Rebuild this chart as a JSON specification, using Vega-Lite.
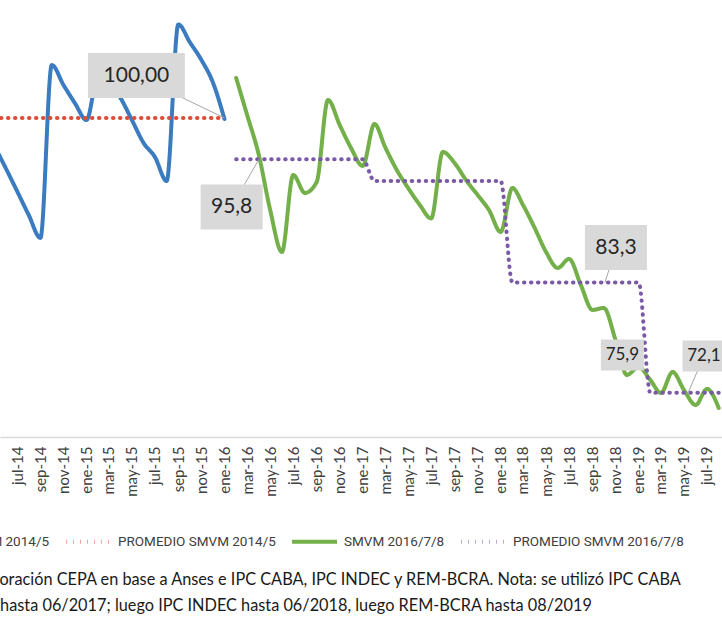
{
  "$schema": "https://vega.github.io/schema/vega-lite/v6.json",
  "width": 722,
  "height": 437,
  "autosize": {"type": "none"},
  "padding": {"left": 0, "top": 0, "right": 0, "bottom": 187},
  "background": "white",
  "config": {"view": {"stroke": null}, "font": "Lato"},
  "datasets": {
    "series": [
      {"date": "2014-05-01", "value": 97.26, "series": "SMVM 2014/5"},
      {"date": "2014-06-01", "value": 94.92, "series": "SMVM 2014/5"},
      {"date": "2014-07-01", "value": 92.59, "series": "SMVM 2014/5"},
      {"date": "2014-08-01", "value": 90.15, "series": "SMVM 2014/5"},
      {"date": "2014-09-01", "value": 87.82, "series": "SMVM 2014/5"},
      {"date": "2014-10-01", "value": 105.38, "series": "SMVM 2014/5"},
      {"date": "2014-11-01", "value": 103.35, "series": "SMVM 2014/5"},
      {"date": "2014-12-01", "value": 101.52, "series": "SMVM 2014/5"},
      {"date": "2015-01-01", "value": 99.8, "series": "SMVM 2014/5"},
      {"date": "2015-02-01", "value": 104.37, "series": "SMVM 2014/5"},
      {"date": "2015-03-01", "value": 103.65, "series": "SMVM 2014/5"},
      {"date": "2015-04-01", "value": 102.03, "series": "SMVM 2014/5"},
      {"date": "2015-05-01", "value": 99.8, "series": "SMVM 2014/5"},
      {"date": "2015-06-01", "value": 97.46, "series": "SMVM 2014/5"},
      {"date": "2015-07-01", "value": 96.04, "series": "SMVM 2014/5"},
      {"date": "2015-08-01", "value": 93.6, "series": "SMVM 2014/5"},
      {"date": "2015-09-01", "value": 109.5, "series": "SMVM 2014/5"},
      {"date": "2015-10-01", "value": 107.72, "series": "SMVM 2014/5"},
      {"date": "2015-11-01", "value": 105.89, "series": "SMVM 2014/5"},
      {"date": "2015-12-01", "value": 103.65, "series": "SMVM 2014/5"},
      {"date": "2016-01-01", "value": 99.9, "series": "SMVM 2014/5"},
      {"date": "2016-02-01", "value": 104.06, "series": "SMVM 2016/7/8"},
      {"date": "2016-03-01", "value": 100.3, "series": "SMVM 2016/7/8"},
      {"date": "2016-04-01", "value": 96.24, "series": "SMVM 2016/7/8"},
      {"date": "2016-05-01", "value": 90.66, "series": "SMVM 2016/7/8"},
      {"date": "2016-06-01", "value": 86.4, "series": "SMVM 2016/7/8"},
      {"date": "2016-07-01", "value": 94.21, "series": "SMVM 2016/7/8"},
      {"date": "2016-08-01", "value": 92.39, "series": "SMVM 2016/7/8"},
      {"date": "2016-09-01", "value": 93.5, "series": "SMVM 2016/7/8"},
      {"date": "2016-10-01", "value": 101.83, "series": "SMVM 2016/7/8"},
      {"date": "2016-11-01", "value": 99.29, "series": "SMVM 2016/7/8"},
      {"date": "2016-12-01", "value": 96.95, "series": "SMVM 2016/7/8"},
      {"date": "2017-01-01", "value": 95.13, "series": "SMVM 2016/7/8"},
      {"date": "2017-02-01", "value": 99.39, "series": "SMVM 2016/7/8"},
      {"date": "2017-03-01", "value": 97.06, "series": "SMVM 2016/7/8"},
      {"date": "2017-04-01", "value": 94.72, "series": "SMVM 2016/7/8"},
      {"date": "2017-05-01", "value": 92.89, "series": "SMVM 2016/7/8"},
      {"date": "2017-06-01", "value": 91.17, "series": "SMVM 2016/7/8"},
      {"date": "2017-07-01", "value": 89.8, "series": "SMVM 2016/7/8"},
      {"date": "2017-08-01", "value": 96.55, "series": "SMVM 2016/7/8"},
      {"date": "2017-09-01", "value": 95.43, "series": "SMVM 2016/7/8"},
      {"date": "2017-10-01", "value": 93.71, "series": "SMVM 2016/7/8"},
      {"date": "2017-11-01", "value": 92.18, "series": "SMVM 2016/7/8"},
      {"date": "2017-12-01", "value": 90.66, "series": "SMVM 2016/7/8"},
      {"date": "2018-01-01", "value": 88.43, "series": "SMVM 2016/7/8"},
      {"date": "2018-02-01", "value": 92.89, "series": "SMVM 2016/7/8"},
      {"date": "2018-03-01", "value": 91.17, "series": "SMVM 2016/7/8"},
      {"date": "2018-04-01", "value": 88.83, "series": "SMVM 2016/7/8"},
      {"date": "2018-05-01", "value": 86.4, "series": "SMVM 2016/7/8"},
      {"date": "2018-06-01", "value": 84.77, "series": "SMVM 2016/7/8"},
      {"date": "2018-07-01", "value": 85.69, "series": "SMVM 2016/7/8"},
      {"date": "2018-08-01", "value": 83.05, "series": "SMVM 2016/7/8"},
      {"date": "2018-09-01", "value": 80.51, "series": "SMVM 2016/7/8"},
      {"date": "2018-10-01", "value": 80.71, "series": "SMVM 2016/7/8"},
      {"date": "2018-11-01", "value": 77.46, "series": "SMVM 2016/7/8"},
      {"date": "2018-12-01", "value": 73.91, "series": "SMVM 2016/7/8"},
      {"date": "2019-01-01", "value": 74.72, "series": "SMVM 2016/7/8"},
      {"date": "2019-02-01", "value": 73.4, "series": "SMVM 2016/7/8"},
      {"date": "2019-03-01", "value": 72.08, "series": "SMVM 2016/7/8"},
      {"date": "2019-04-01", "value": 74.21, "series": "SMVM 2016/7/8"},
      {"date": "2019-05-01", "value": 72.39, "series": "SMVM 2016/7/8"},
      {"date": "2019-06-01", "value": 70.86, "series": "SMVM 2016/7/8"},
      {"date": "2019-07-01", "value": 72.49, "series": "SMVM 2016/7/8"},
      {"date": "2019-08-01", "value": 70.56, "series": "SMVM 2016/7/8"},
      {"date": "2014-05-01", "value": 100, "series": "PROMEDIO SMVM 2014/5"},
      {"date": "2014-06-01", "value": 100, "series": "PROMEDIO SMVM 2014/5"},
      {"date": "2014-07-01", "value": 100, "series": "PROMEDIO SMVM 2014/5"},
      {"date": "2014-08-01", "value": 100, "series": "PROMEDIO SMVM 2014/5"},
      {"date": "2014-09-01", "value": 100, "series": "PROMEDIO SMVM 2014/5"},
      {"date": "2014-10-01", "value": 100, "series": "PROMEDIO SMVM 2014/5"},
      {"date": "2014-11-01", "value": 100, "series": "PROMEDIO SMVM 2014/5"},
      {"date": "2014-12-01", "value": 100, "series": "PROMEDIO SMVM 2014/5"},
      {"date": "2015-01-01", "value": 100, "series": "PROMEDIO SMVM 2014/5"},
      {"date": "2015-02-01", "value": 100, "series": "PROMEDIO SMVM 2014/5"},
      {"date": "2015-03-01", "value": 100, "series": "PROMEDIO SMVM 2014/5"},
      {"date": "2015-04-01", "value": 100, "series": "PROMEDIO SMVM 2014/5"},
      {"date": "2015-05-01", "value": 100, "series": "PROMEDIO SMVM 2014/5"},
      {"date": "2015-06-01", "value": 100, "series": "PROMEDIO SMVM 2014/5"},
      {"date": "2015-07-01", "value": 100, "series": "PROMEDIO SMVM 2014/5"},
      {"date": "2015-08-01", "value": 100, "series": "PROMEDIO SMVM 2014/5"},
      {"date": "2015-09-01", "value": 100, "series": "PROMEDIO SMVM 2014/5"},
      {"date": "2015-10-01", "value": 100, "series": "PROMEDIO SMVM 2014/5"},
      {"date": "2015-11-01", "value": 100, "series": "PROMEDIO SMVM 2014/5"},
      {"date": "2015-12-01", "value": 100, "series": "PROMEDIO SMVM 2014/5"},
      {"date": "2016-01-01", "value": 100, "series": "PROMEDIO SMVM 2014/5"},
      {"date": "2016-02-01", "value": 95.8, "series": "PROMEDIO SMVM 2016/7/8"},
      {"date": "2016-03-01", "value": 95.8, "series": "PROMEDIO SMVM 2016/7/8"},
      {"date": "2016-04-01", "value": 95.8, "series": "PROMEDIO SMVM 2016/7/8"},
      {"date": "2016-05-01", "value": 95.8, "series": "PROMEDIO SMVM 2016/7/8"},
      {"date": "2016-06-01", "value": 95.8, "series": "PROMEDIO SMVM 2016/7/8"},
      {"date": "2016-07-01", "value": 95.8, "series": "PROMEDIO SMVM 2016/7/8"},
      {"date": "2016-08-01", "value": 95.8, "series": "PROMEDIO SMVM 2016/7/8"},
      {"date": "2016-09-01", "value": 95.8, "series": "PROMEDIO SMVM 2016/7/8"},
      {"date": "2016-10-01", "value": 95.8, "series": "PROMEDIO SMVM 2016/7/8"},
      {"date": "2016-11-01", "value": 95.8, "series": "PROMEDIO SMVM 2016/7/8"},
      {"date": "2016-12-01", "value": 95.8, "series": "PROMEDIO SMVM 2016/7/8"},
      {"date": "2017-01-01", "value": 95.8, "series": "PROMEDIO SMVM 2016/7/8"},
      {"date": "2017-02-01", "value": 93.6, "series": "PROMEDIO SMVM 2016/7/8"},
      {"date": "2017-03-01", "value": 93.6, "series": "PROMEDIO SMVM 2016/7/8"},
      {"date": "2017-04-01", "value": 93.6, "series": "PROMEDIO SMVM 2016/7/8"},
      {"date": "2017-05-01", "value": 93.6, "series": "PROMEDIO SMVM 2016/7/8"},
      {"date": "2017-06-01", "value": 93.6, "series": "PROMEDIO SMVM 2016/7/8"},
      {"date": "2017-07-01", "value": 93.6, "series": "PROMEDIO SMVM 2016/7/8"},
      {"date": "2017-08-01", "value": 93.6, "series": "PROMEDIO SMVM 2016/7/8"},
      {"date": "2017-09-01", "value": 93.6, "series": "PROMEDIO SMVM 2016/7/8"},
      {"date": "2017-10-01", "value": 93.6, "series": "PROMEDIO SMVM 2016/7/8"},
      {"date": "2017-11-01", "value": 93.6, "series": "PROMEDIO SMVM 2016/7/8"},
      {"date": "2017-12-01", "value": 93.6, "series": "PROMEDIO SMVM 2016/7/8"},
      {"date": "2018-01-01", "value": 93.6, "series": "PROMEDIO SMVM 2016/7/8"},
      {"date": "2018-02-01", "value": 83.3, "series": "PROMEDIO SMVM 2016/7/8"},
      {"date": "2018-03-01", "value": 83.3, "series": "PROMEDIO SMVM 2016/7/8"},
      {"date": "2018-04-01", "value": 83.3, "series": "PROMEDIO SMVM 2016/7/8"},
      {"date": "2018-05-01", "value": 83.3, "series": "PROMEDIO SMVM 2016/7/8"},
      {"date": "2018-06-01", "value": 83.3, "series": "PROMEDIO SMVM 2016/7/8"},
      {"date": "2018-07-01", "value": 83.3, "series": "PROMEDIO SMVM 2016/7/8"},
      {"date": "2018-08-01", "value": 83.3, "series": "PROMEDIO SMVM 2016/7/8"},
      {"date": "2018-09-01", "value": 83.3, "series": "PROMEDIO SMVM 2016/7/8"},
      {"date": "2018-10-01", "value": 83.3, "series": "PROMEDIO SMVM 2016/7/8"},
      {"date": "2018-11-01", "value": 83.3, "series": "PROMEDIO SMVM 2016/7/8"},
      {"date": "2018-12-01", "value": 83.3, "series": "PROMEDIO SMVM 2016/7/8"},
      {"date": "2019-01-01", "value": 83.3, "series": "PROMEDIO SMVM 2016/7/8"},
      {"date": "2019-02-01", "value": 72.1, "series": "PROMEDIO SMVM 2016/7/8"},
      {"date": "2019-03-01", "value": 72.1, "series": "PROMEDIO SMVM 2016/7/8"},
      {"date": "2019-04-01", "value": 72.1, "series": "PROMEDIO SMVM 2016/7/8"},
      {"date": "2019-05-01", "value": 72.1, "series": "PROMEDIO SMVM 2016/7/8"},
      {"date": "2019-06-01", "value": 72.1, "series": "PROMEDIO SMVM 2016/7/8"},
      {"date": "2019-07-01", "value": 72.1, "series": "PROMEDIO SMVM 2016/7/8"},
      {"date": "2019-08-01", "value": 72.1, "series": "PROMEDIO SMVM 2016/7/8"}
    ],
    "labels": [
      {"label": "100,00", "date": "2016-01-01", "value": 100, "ldate": "2015-05-13", "lvalue": 104.31},
      {"label": "95,8", "date": "2016-04-01", "value": 95.8, "ldate": "2016-01-20", "lvalue": 90.96},
      {"label": "83,3", "date": "2018-10-04", "value": 83.3, "ldate": "2018-11-02", "lvalue": 86.85},
      {"label": "75,9", "date": "2018-11-19", "value": 75.94, "ldate": "2018-11-19", "lvalue": 75.94},
      {"label": "72,1", "date": "2019-05-12", "value": 72.1, "ldate": "2019-06-23", "lvalue": 75.84}
    ]
  },
  "layer": [
    {
      "data": {"name": "series"},
      "mark": {"type": "line", "interpolate": "monotone", "strokeWidth": 4, "strokeCap": "round", "clip": true},
      "encoding": {
        "x": {
          "field": "date", "type": "temporal",
          "scale": {"type": "utc", "domain": [{"year": 2014, "month": 5, "date": 17, "utc": true}, {"year": 2019, "month": 8, "date": 9, "hours": 17, "utc": true}]},
          "axis": {
            "tickCount": {"interval": "month", "step": 2},
            "labelExpr": "['ene','feb','mar','abr','may','jun','jul','ago','sep','oct','nov','dic'][utcmonth(datum.value)] + '-' + utcFormat(datum.value, '%y')",
            "labelAngle": -90, "labelAlign": "right", "labelBaseline": "middle",
            "labelFont": "Lato", "labelFontSize": 15, "labelColor": "#404040", "labelPadding": 9,
            "labelOverlap": false, "labelFlush": false, "labelBound": false,
            "ticks": false, "grid": false, "domainColor": "#d9d9d9", "domainWidth": 1.5,
            "title": ["Fuente: Elaboración CEPA en base a Anses e IPC CABA, IPC INDEC y REM-BCRA. Nota: se utilizó IPC CABA", "hasta 06/2017; luego IPC INDEC hasta 06/2018, luego REM-BCRA hasta 08/2019"],
            "titleFont": "Lato", "titleFontSize": 16.3, "titleFontWeight": "normal", "titleColor": "#1a1a1a",
            "titleAlign": "center", "titleBaseline": "alphabetic", "titleAngle": 0,
            "titleX": 295.5, "titleY": 147, "titleLineHeight": 26
          }
        },
        "y": {"field": "value", "type": "quantitative", "scale": {"domain": [67.61, 111.98], "nice": false, "zero": false}, "axis": null},
        "color": {
          "field": "series", "type": "nominal",
          "scale": {"domain": ["SMVM 2014/5", "PROMEDIO SMVM 2014/5", "SMVM 2016/7/8", "PROMEDIO SMVM 2016/7/8"], "range": ["#3b7bbf", "#dd4e36", "#74b04a", "#7a5aa6"]},
          "legend": {"orient": "none", "legendX": -92, "legendY": 517, "direction": "horizontal", "title": null, "labelFont": "Roboto", "labelFontSize": 13.5, "labelColor": "#404040", "symbolType": "stroke", "symbolSize": 2025, "symbolStrokeWidth": 4, "columnPadding": 8, "labelOffset": 5, "labelLimit": 0}
        },
        "strokeDash": {
          "field": "series", "type": "nominal",
          "scale": {"domain": ["SMVM 2014/5", "PROMEDIO SMVM 2014/5", "SMVM 2016/7/8", "PROMEDIO SMVM 2016/7/8"], "range": [[1, 0], [0.5, 6.5], [1, 0], [0.5, 6.5]]},
          "legend": {"orient": "none", "legendX": -92, "legendY": 517, "direction": "horizontal", "title": null, "labelFont": "Roboto", "labelFontSize": 13.5, "labelColor": "#404040", "symbolType": "stroke", "symbolSize": 2025, "symbolStrokeWidth": 4, "columnPadding": 8, "labelOffset": 5, "labelLimit": 0}
        }
      }
    },
    {
      "data": {"name": "labels"},
      "mark": {"type": "rule", "color": "#a6a6a6", "strokeWidth": 1},
      "encoding": {
        "x": {"field": "ldate", "type": "temporal"},
        "y": {"field": "lvalue", "type": "quantitative"},
        "x2": {"field": "date"},
        "y2": {"field": "value"}
      }
    },
    {
      "data": {"name": "labels"},
      "transform": [{"filter": "datum.label == '100,00'"}],
      "mark": {"type": "rect", "width": 97, "height": 45, "color": "#d9d9d9"},
      "encoding": {
        "x": {"field": "ldate", "type": "temporal"},
        "y": {"field": "lvalue", "type": "quantitative"}
      }
    },
    {
      "data": {"name": "labels"},
      "transform": [{"filter": "datum.label == '95,8' || datum.label == '83,3'"}],
      "mark": {"type": "rect", "width": 62, "height": 45, "color": "#d9d9d9"},
      "encoding": {
        "x": {"field": "ldate", "type": "temporal"},
        "y": {"field": "lvalue", "type": "quantitative"}
      }
    },
    {
      "data": {"name": "labels"},
      "transform": [{"filter": "datum.label == '75,9' || datum.label == '72,1'"}],
      "mark": {"type": "rect", "width": 43, "height": 31, "color": "#d9d9d9"},
      "encoding": {
        "x": {"field": "ldate", "type": "temporal"},
        "y": {"field": "lvalue", "type": "quantitative"}
      }
    },
    {
      "data": {"name": "labels"},
      "transform": [{"filter": "datum.label == '100,00' || datum.label == '95,8' || datum.label == '83,3'"}],
      "mark": {"type": "text", "font": "Lato", "fontSize": 21, "color": "#262626", "align": "center", "baseline": "middle"},
      "encoding": {
        "x": {"field": "ldate", "type": "temporal"},
        "y": {"field": "lvalue", "type": "quantitative"},
        "text": {"field": "label"}
      }
    },
    {
      "data": {"name": "labels"},
      "transform": [{"filter": "datum.label == '75,9' || datum.label == '72,1'"}],
      "mark": {"type": "text", "font": "Lato", "fontSize": 17, "color": "#262626", "align": "center", "baseline": "middle"},
      "encoding": {
        "x": {"field": "ldate", "type": "temporal"},
        "y": {"field": "lvalue", "type": "quantitative"},
        "text": {"field": "label"}
      }
    }
  ]
}
